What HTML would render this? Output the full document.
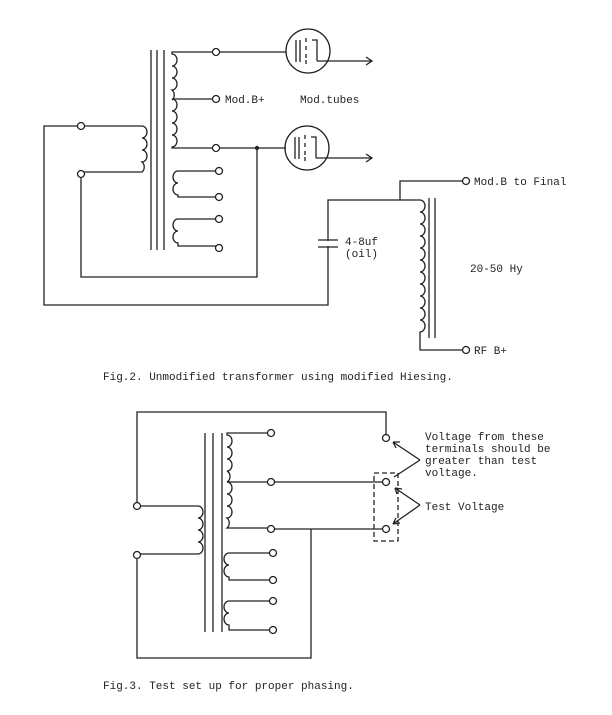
<!DOCTYPE html><html><head><style>body{margin:0;background:#fff}svg{display:block}text{font-family:"Liberation Mono",monospace;font-size:11px;fill:#222}</style></head><body>
<svg width="612" height="715" viewBox="0 0 612 715" fill="none" stroke="#222" stroke-width="1.3">
<!-- FIG 2 -->
<line x1="151" y1="50" x2="151" y2="250"/><line x1="157" y1="50" x2="157" y2="250"/><line x1="164" y1="50" x2="164" y2="250"/>
<path d="M216 52H172v2 a5 6 0 0 1 0 12a5 6 0 0 1 0 12a5 6 0 0 1 0 12a5 6 0 0 1 0 10 M172 99 a5 6 0 0 1 0 12a5 6 0 0 1 0 12a5 6 0 0 1 0 12a5 6 0 0 1 0 12v1H216"/>
<line x1="172" y1="99" x2="213" y2="99"/>
<line x1="219" y1="52" x2="286" y2="52"/>
<path d="M219 148H286"/>
<circle cx="308" cy="51" r="22"/><circle cx="307" cy="148" r="22"/>
<path d="M296 40v22M300 40v22M306 38v4M306 46v4M306 54v4M306 60v4M312 40h5v21"/>
<path d="M295 137v22M299 137v22M305 135v4M305 143v4M305 151v4M305 157v4M311 137h5v21"/>
<path d="M317 61H372M366 57l6 4-6 4M316 158H372M366 154l6 4-6 4"/>
<circle cx="257" cy="148" r="1.5" fill="#222"/>
<path d="M257 148V277H81V177"/>
<path d="M84 126H142a5 6 0 0 1 0 12a5 6 0 0 1 0 12a5 6 0 0 1 0 12a5 6 0 0 1 0 10H84"/>
<path d="M78 126H44V305H328V200H400V181H463"/>
<path d="M178 171h38M178 171a5 6 0 0 0 0 12a5 6 0 0 0 0 12v2h38M178 219h38M178 219a5 6 0 0 0 0 12a5 6 0 0 0 0 12v3h38"/>
<line x1="318" y1="240" x2="338" y2="240"/><line x1="318" y1="247" x2="338" y2="247"/>
<rect x="320" y="241" width="16" height="5" fill="#fff" stroke="none"/>
<path d="M400 200H420a5 6 0 0 1 0 12a5 6 0 0 1 0 12a5 6 0 0 1 0 12a5 6 0 0 1 0 12a5 6 0 0 1 0 12a5 6 0 0 1 0 12a5 6 0 0 1 0 12a5 6 0 0 1 0 12a5 6 0 0 1 0 12a5 6 0 0 1 0 12a5 6 0 0 1 0 12V350H463"/>
<line x1="429" y1="198" x2="429" y2="338"/><line x1="435" y1="198" x2="435" y2="338"/>
<g fill="#fff"><circle cx="216" cy="52" r="3.5"/><circle cx="216" cy="99" r="3.5"/><circle cx="216" cy="148" r="3.5"/><circle cx="81" cy="126" r="3.5"/><circle cx="81" cy="174" r="3.5"/><circle cx="219" cy="171" r="3.5"/><circle cx="219" cy="197" r="3.5"/><circle cx="219" cy="219" r="3.5"/><circle cx="219" cy="248" r="3.5"/><circle cx="466" cy="181" r="3.5"/><circle cx="466" cy="350" r="3.5"/></g>
<g stroke="none"><text x="225" y="103">Mod.B+</text><text x="300" y="103">Mod.tubes</text><text x="345" y="245">4-8uf</text><text x="345" y="257">(oil)</text><text x="470" y="272">20-50 Hy</text><text x="474" y="185">Mod.B  to Final</text><text x="474" y="354">RF B+</text><text x="103" y="380" font-size="10">Fig.2. Unmodified transformer  using modified Hiesing.</text></g>
<!-- FIG 3 -->
<line x1="205" y1="433" x2="205" y2="632"/><line x1="213" y1="433" x2="213" y2="632"/><line x1="222" y1="433" x2="222" y2="632"/>
<path d="M268 433H227v2a5 6 0 0 1 0 12a5 6 0 0 1 0 12a5 6 0 0 1 0 12a5 6 0 0 1 0 11M227 482a5 6 0 0 1 0 12a5 6 0 0 1 0 12a5 6 0 0 1 0 12a5 6 0 0 1 0 10H268"/>
<path d="M227 482H268M274 482H383M274 529H383M311 529V658H137V558"/>
<path d="M140 506H198a5 6 0 0 1 0 12a5 6 0 0 1 0 12a5 6 0 0 1 0 12a5 6 0 0 1 0 12H140"/>
<path d="M137 503V412H386V435"/>
<path d="M229 553h41M229 553a5 6 0 0 0 0 12a5 6 0 0 0 0 12v3h41M229 601h41M229 601a5 6 0 0 0 0 12a5 6 0 0 0 0 12v5h41"/>
<rect x="374" y="473" width="24" height="68" stroke-dasharray="5 3"/>
<g fill="#fff"><circle cx="271" cy="433" r="3.5"/><circle cx="271" cy="482" r="3.5"/><circle cx="271" cy="529" r="3.5"/><circle cx="386" cy="438" r="3.5"/><circle cx="386" cy="482" r="3.5"/><circle cx="386" cy="529" r="3.5"/><circle cx="137" cy="506" r="3.5"/><circle cx="137" cy="555" r="3.5"/><circle cx="273" cy="553" r="3.5"/><circle cx="273" cy="580" r="3.5"/><circle cx="273" cy="601" r="3.5"/><circle cx="273" cy="630" r="3.5"/></g>
<path d="M420 460L393 442M393 442l7 0M393 442l3 6M420 460L394 477M420 505L395 488M395 488l7 1M395 488l2 6M420 505L393 524M393 524l7-1M393 524l3-6"/>
<g stroke="none"><text x="425" y="440">Voltage from these</text><text x="425" y="452">terminals should be</text><text x="425" y="464">greater than test</text><text x="425" y="476">voltage.</text><text x="425" y="510">Test Voltage</text><text x="103" y="689" font-size="10">Fig.3. Test set up for proper phasing.</text></g>
</svg></body></html>
